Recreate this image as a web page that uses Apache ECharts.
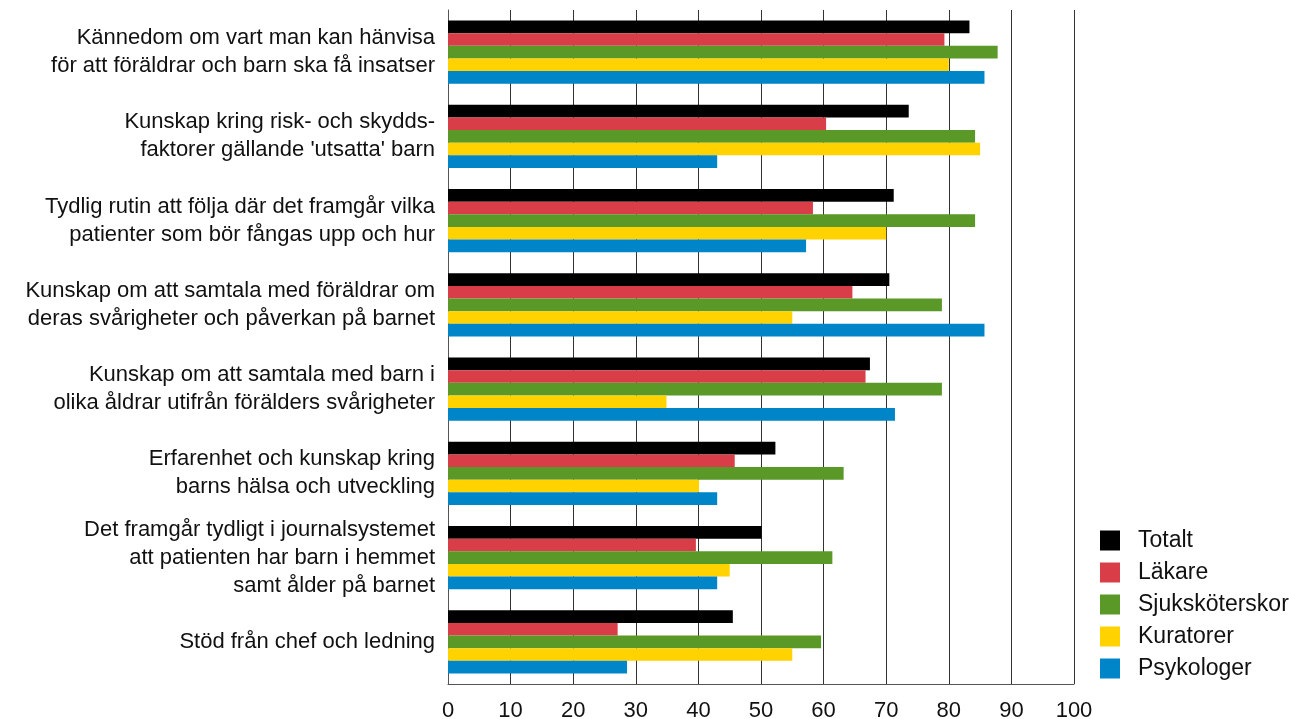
<!DOCTYPE html>
<html>
<head>
<meta charset="utf-8">
<script src="https://cdn.jsdelivr.net/npm/echarts@6/dist/echarts.min.js"></script>
<style>html,body{margin:0;padding:0;background:#fff}#c{width:1289px;height:719px}</style>
</head>
<body>
<div id="c"></div>
<script>
const categories = [
  "Kännedom om vart man kan hänvisa\nför att föräldrar och barn ska få insatser",
  "Kunskap kring risk- och skydds-\nfaktorer gällande 'utsatta' barn",
  "Tydlig rutin att följa där det framgår vilka\npatienter som bör fångas upp och hur",
  "Kunskap om att samtala med föräldrar om\nderas svårigheter och påverkan på barnet",
  "Kunskap om att samtala med barn i\nolika åldrar utifrån förälders svårigheter",
  "Erfarenhet och kunskap kring\nbarns hälsa och utveckling",
  "Det framgår tydligt i journalsystemet\natt patienten har barn i hemmet\nsamt ålder på barnet",
  "Stöd från chef och ledning"
];
const seriesNames = ["Totalt", "Läkare", "Sjuksköterskor", "Kuratorer", "Psykologer"];
const totalt = [83.3, 73.6, 71.2, 70.5, 67.4, 52.3, 50.1, 45.5];
const lakare = [79.3, 60.4, 58.3, 64.6, 66.7, 45.8, 39.6, 27.1];
const sjukskoterskor = [87.8, 84.2, 84.2, 78.9, 78.9, 63.2, 61.4, 59.6];
const kuratorer = [80.0, 85.0, 70.0, 55.0, 34.9, 40.1, 45.0, 55.0];
const psykologer = [85.7, 43.0, 57.2, 85.7, 71.4, 43.0, 43.0, 28.6];
const xTicks = [0, 10, 20, 30, 40, 50, 60, 70, 80, 90, 100];

const colors = ["#000000", "#d93e48", "#5a9828", "#ffd200", "#0085c8"];
const values = [totalt, lakare, sjukskoterskor, kuratorer, psykologer];
const FONT = "Liberation Sans";

const chart = echarts.init(document.getElementById('c'));
chart.setOption({
  animation: false,
  textStyle: { fontFamily: FONT },
  grid: { left: 448, right: 215, top: 10, bottom: 35, containLabel: false, outerBoundsMode: 'none' },
  legend: {
    orient: 'vertical',
    left: 1100, top: 529, padding: 0,
    itemWidth: 20, itemHeight: 20, itemGap: 9,
    icon: 'rect',
    textStyle: { fontSize: 23, lineHeight: 20, color: '#111', fontFamily: FONT, padding: [0, 0, 0, 13] },
    data: seriesNames
  },
  xAxis: {
    type: 'value', min: xTicks[0], max: xTicks[xTicks.length - 1], interval: 10,
    axisLine: { show: true, lineStyle: { color: '#555', width: 1 } },
    axisTick: { show: false },
    splitLine: { show: true, lineStyle: { color: '#333', width: 1 } },
    axisLabel: { fontSize: 22, color: '#111', margin: 16, fontFamily: FONT }
  },
  yAxis: {
    type: 'category', inverse: true, data: categories,
    axisLine: { show: true, lineStyle: { color: '#555', width: 1 } },
    axisTick: { show: false },
    axisLabel: { fontSize: 22, color: '#111', lineHeight: 28, margin: 13, align: 'right', fontFamily: FONT }
  },
  series: seriesNames.map((n, i) => ({
    name: n, type: 'bar', data: values[i],
    itemStyle: { color: colors[i] },
    barGap: '0%', barCategoryGap: '25%'
  }))
});
</script>
</body>
</html>
